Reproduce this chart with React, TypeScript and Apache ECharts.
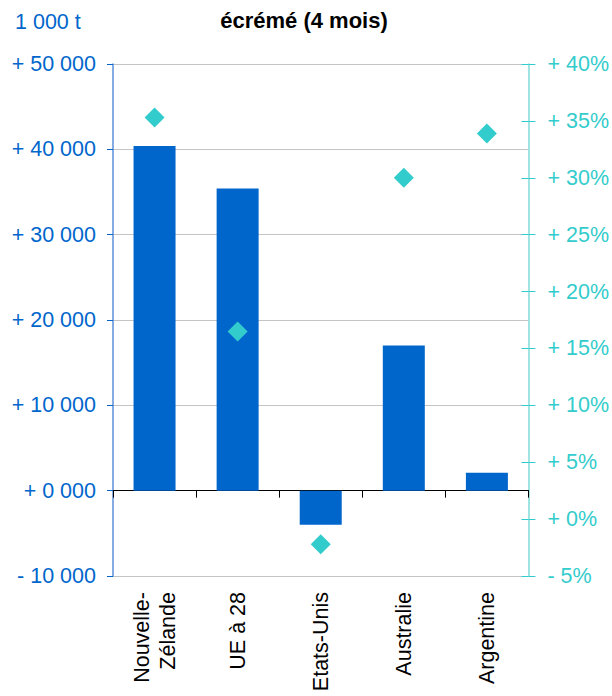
import React, { useEffect, useRef } from "react";
import * as echarts from "echarts";

const categories = ["Nouvelle-\nZélande", "UE à 28", "Etats-Unis", "Australie", "Argentine"];
const volumes = [40400, 35400, -4000, 17000, 2100];
const pctChange = [35.3, 16.5, -2.2, 30.0, 33.9];
const titleText = "écrémé (4 mois)";
const unitText = "1 000 t";

const FONT = "'Liberation Sans', Arial, sans-serif";
const BLUE = "#0066CC";
const TEAL = "#33CCCC";

function fmtThousands(v: number): string {
  const a = Math.abs(v);
  const th = Math.floor(a / 1000);
  const rest = String(a % 1000).padStart(3, "0");
  return (v < 0 ? "- " : "+ ") + th + " " + rest;
}

export default function App() {
  const ref = useRef<HTMLDivElement>(null);
  useEffect(() => {
    if (!ref.current) return;
    const chart = echarts.init(ref.current, null, { renderer: "svg" });
    chart.setOption({
      animation: false,
      backgroundColor: "#ffffff",
      grid: { left: 113, right: 83, top: 64, bottom: 120, containLabel: false },
      graphic: [
        {
          type: "text",
          left: 15,
          top: 11,
          style: { text: unitText, fill: BLUE, font: `21.5px ${FONT}` },
        },
        {
          type: "text",
          x: 304,
          y: 20,
          style: {
            text: titleText,
            fill: "#000",
            font: `bold 22px ${FONT}`,
            textAlign: "center",
            textVerticalAlign: "middle",
          },
        },
      ],
      xAxis: [
        {
          type: "category",
          data: categories,
          position: "bottom",
          axisLine: { onZero: true, onZeroAxisIndex: 0, lineStyle: { color: "#000", width: 1.2 } },
          axisTick: { show: true, length: 7, lineStyle: { color: "#000" } },
          axisLabel: { show: false },
          splitLine: { show: false },
        },
        {
          type: "category",
          data: categories,
          position: "bottom",
          axisLine: { show: false, onZero: false },
          axisTick: { show: false },
          axisLabel: {
            rotate: 90,
            margin: 16,
            color: "#000",
            fontFamily: FONT,
            fontSize: 21.5,
            lineHeight: 26,
          },
        },
      ],
      yAxis: [
        {
          type: "value",
          min: -10000,
          max: 50000,
          interval: 10000,
          position: "left",
          axisLine: { show: true, lineStyle: { color: "#5b8fd9", width: 1.5 } },
          axisTick: { show: true, inside: false, length: 6, lineStyle: { color: BLUE } },
          axisLabel: {
            margin: 17,
            color: BLUE,
            fontFamily: FONT,
            fontSize: 21.5,
            formatter: (v: number) => fmtThousands(v),
          },
          splitLine: { show: true, lineStyle: { color: "#c4c4c4", width: 1 } },
        },
        {
          type: "value",
          min: -5,
          max: 40,
          interval: 5,
          position: "right",
          axisLine: { show: true, lineStyle: { color: "#7fdada", width: 1.5 } },
          axisTick: { show: true, inside: true, length: 7, lineStyle: { color: TEAL } },
          axisLabel: {
            margin: 19,
            color: TEAL,
            fontFamily: FONT,
            fontSize: 21.5,
            formatter: (v: number) => (v < 0 ? "- " : "+ ") + Math.abs(v) + "%",
          },
          splitLine: { show: false },
        },
        {
          type: "value",
          min: -5,
          max: 40,
          interval: 5,
          position: "right",
          axisLine: { show: false },
          axisTick: { show: true, inside: false, length: 7, lineStyle: { color: TEAL } },
          axisLabel: { show: false },
          splitLine: { show: false },
        },
      ],
      series: [
        {
          type: "bar",
          data: volumes,
          xAxisIndex: 0,
          yAxisIndex: 0,
          barWidth: 42,
          itemStyle: { color: BLUE },
          z: 2,
        },
        {
          type: "scatter",
          data: pctChange,
          xAxisIndex: 0,
          yAxisIndex: 1,
          symbol: "diamond",
          symbolSize: [20, 20],
          itemStyle: { color: TEAL, opacity: 1 },
          z: 3,
        },
      ],
    });
    return () => chart.dispose();
  }, []);
  return <div ref={ref} style={{ width: 612, height: 696, position: "absolute", left: 0, top: 0 }} />;
}
